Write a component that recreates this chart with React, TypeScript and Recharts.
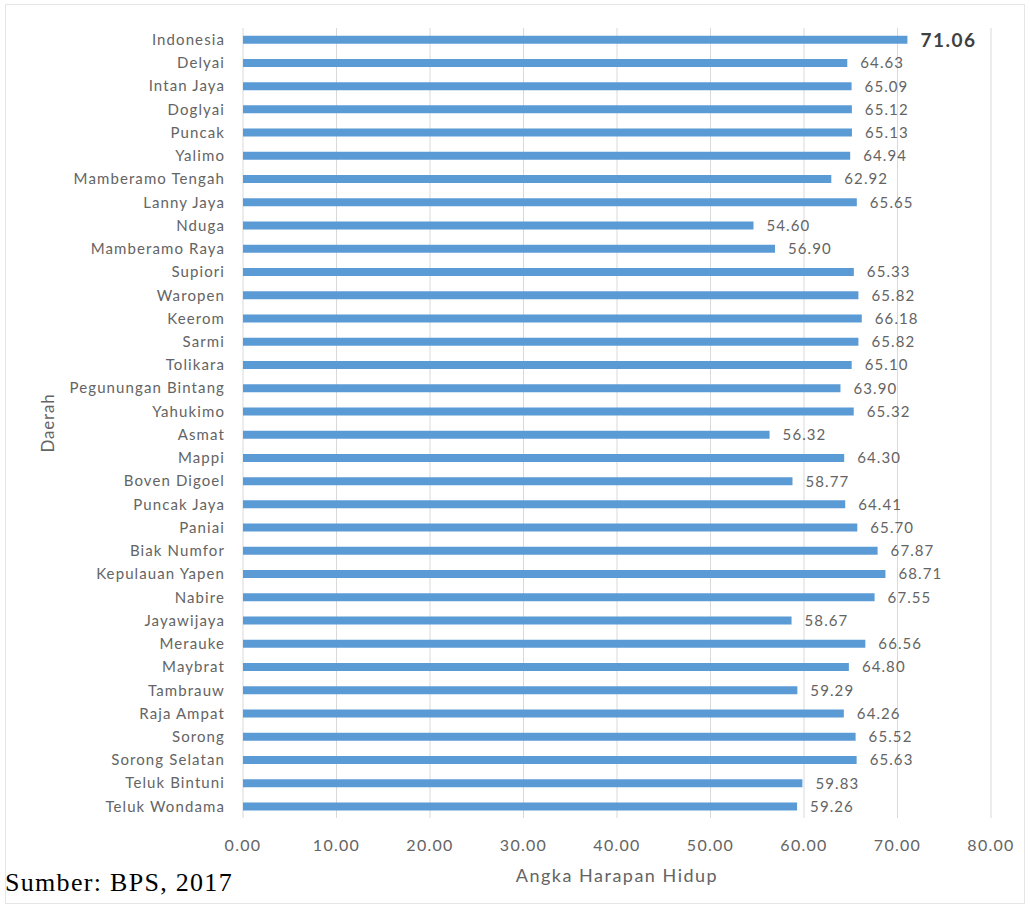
import React from "react"
import { BarChart, Bar, XAxis, YAxis, CartesianGrid, LabelList } from "recharts"

// Daerah (top to bottom as shown)
const regions = [
  "Indonesia", "Delyai", "Intan Jaya", "Doglyai", "Puncak", "Yalimo", "Mamberamo Tengah",
  "Lanny Jaya", "Nduga", "Mamberamo Raya", "Supiori", "Waropen", "Keerom", "Sarmi",
  "Tolikara", "Pegunungan Bintang", "Yahukimo", "Asmat", "Mappi", "Boven Digoel",
  "Puncak Jaya", "Paniai", "Biak Numfor", "Kepulauan Yapen", "Nabire", "Jayawijaya",
  "Merauke", "Maybrat", "Tambrauw", "Raja Ampat", "Sorong", "Sorong Selatan",
  "Teluk Bintuni", "Teluk Wondama",
]

// Angka Harapan Hidup
const lifeExpectancy = [
  71.06, 64.63, 65.09, 65.12, 65.13, 64.94, 62.92,
  65.65, 54.6, 56.9, 65.33, 65.82, 66.18, 65.82,
  65.1, 63.9, 65.32, 56.32, 64.3, 58.77,
  64.41, 65.7, 67.87, 68.71, 67.55, 58.67,
  66.56, 64.8, 59.29, 64.26, 65.52, 65.63,
  59.83, 59.26,
]

const xTicks = [0, 10, 20, 30, 40, 50, 60, 70, 80]

const data = regions.map((name, i) => ({ name, value: lifeExpectancy[i] }))

const FONT = "Lato, 'Open Sans', sans-serif"
const GREY = "#646464"

const ValueLabel = (props: any) => {
  const { x, y, width, height, value, index } = props
  const highlight = index === 0
  return (
    <text
      x={x + width + 13}
      y={y + height / 2}
      dy="0.36em"
      fill={highlight ? "#404040" : GREY}
      fontSize={highlight ? 19 : 15}
      fontWeight={highlight ? 700 : 400}
      fontFamily={FONT}
      style={{ letterSpacing: highlight ? 1.5 : 1.1 }}
    >
      {Number(value).toFixed(2)}
    </text>
  )
}

export default function App() {
  return (
    <div style={{ position: "absolute", left: 0, top: 0, width: 1030, height: 911, background: "#fff" }}>
      <div
        style={{
          position: "absolute",
          left: 5,
          top: 4,
          width: 1020,
          height: 900,
          border: "1.5px solid #e6e6e6",
          boxSizing: "border-box",
        }}
      />
      <div style={{ position: "absolute", left: 0, top: 0 }}>
        <BarChart
          width={1030}
          height={911}
          data={data}
          layout="vertical"
          barCategoryGap="33%"
          margin={{ top: 28, right: 39, left: 43, bottom: 33 }}
        >
          <CartesianGrid horizontal={false} stroke="#d9d9d9" />
          <XAxis
            type="number"
            domain={[0, 80]}
            ticks={xTicks}
            tickFormatter={(v) => v.toFixed(2)}
            axisLine={false}
            tickLine={false}
            tickSize={0}
            tickMargin={22}
            height={60}
            tick={{ fill: GREY, fontSize: 16, fontFamily: FONT, style: { letterSpacing: 1.3 } }}
            label={{
              value: "Angka Harapan Hidup",
              position: "insideBottom",
              offset: -4,
              fill: GREY,
              fontSize: 18,
              fontFamily: FONT,
              style: { letterSpacing: 1.5 },
            }}
          />
          <YAxis
            type="category"
            dataKey="name"
            width={200}
            axisLine={false}
            tickLine={false}
            tickSize={0}
            interval={0}
            tickMargin={18}
            tick={{ fill: GREY, fontSize: 15, fontFamily: FONT, style: { letterSpacing: 1.1 } }}
            label={{
              content: ({ viewBox }: any) => {
                const cx = viewBox.x + 5
                const cy = viewBox.y + viewBox.height / 2
                return (
                  <text
                    x={cx}
                    y={cy}
                    transform={`rotate(-90 ${cx} ${cy})`}
                    textAnchor="middle"
                    dy="0.35em"
                    fill={GREY}
                    fontSize={17}
                    fontFamily={FONT}
                    style={{ letterSpacing: 0.8 }}
                  >
                    Daerah
                  </text>
                )
              },
            }}
          />
          <Bar dataKey="value" fill="#5b9bd5" isAnimationActive={false}>
            <LabelList dataKey="value" content={<ValueLabel />} />
          </Bar>
        </BarChart>
      </div>
      <div
        style={{
          position: "absolute",
          left: 5,
          top: 868,
          fontFamily: "'Times New Roman', 'Liberation Serif', serif",
          fontSize: 26,
          letterSpacing: 1.3,
          color: "#000",
          whiteSpace: "nowrap",
        }}
      >
        Sumber: BPS, 2017
      </div>
    </div>
  )
}
